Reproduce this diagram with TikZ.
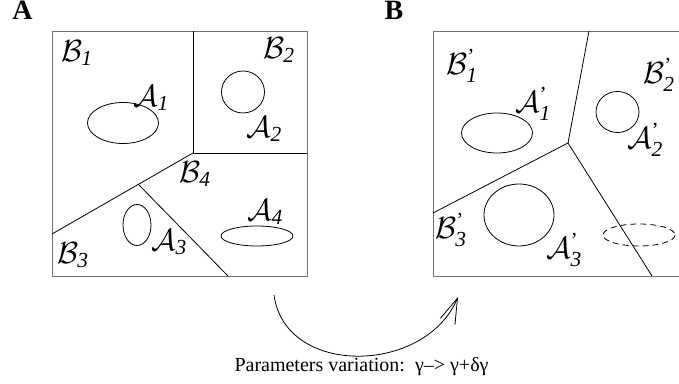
\RequirePackage{fix-cm}
\documentclass[tikz,border=0pt]{standalone}
\usepackage{amsmath}
\usepackage{fontspec}
\setmainfont{Liberation Serif}
\usetikzlibrary{arrows.meta}

\begin{document}
\begin{tikzpicture}[x=0.75pt,y=-0.75pt,line width=0.6pt,
    frame/.style={draw=black!55},
    lbl/.style={inner sep=0pt,font=\fontsize{23}{27}\selectfont},
    panel/.style={inner sep=0pt,anchor=base,font=\fontsize{21}{24}\selectfont\bfseries}]
    \useasboundingbox (0,0) rectangle (679,384);
    % This draws the two frames, the right one runs off the page.
        \draw[frame] (52,31) rectangle (307,276);
        \draw[frame] (682,31) -- (433,31) -- (433,276) -- (682,276);
    % Borders of the regions in A.
        \draw (193,31) -- (193,153) -- (307,153);
        \draw (193,153) -- (52,234);
        \draw (138,184) -- (228,276);
    % Borders of the regions in B.
        \draw (589,31) -- (568,143) -- (433,213);
        \draw (568,143) -- (652,276);
    % The sets inside the regions.
        \draw (123,123) ellipse [x radius=35.5, y radius=20.5];
        \draw (243,92) ellipse [x radius=21.5, y radius=21];
        \draw (137,225) ellipse [x radius=14, y radius=20.5];
        \draw (257,236) ellipse [x radius=36, y radius=10];
        \draw (497,133) ellipse [x radius=35.5, y radius=20];
        \draw (617.5,112) ellipse [x radius=21.5, y radius=20.5];
        \draw (519,215) ellipse [x radius=35, y radius=31];
        \draw[dash pattern=on 4.5pt off 3pt] (639,235) ellipse [x radius=36, y radius=11];
    % Below nodes are the labels.
        \node[panel] (pa) at (22.5,20) {A};
        \node[panel] (pb) at (394,20) {B};
        \node[lbl] (b1) at (77,53) {$\mathcal{B}_{\mathit{1}}$};
        \node[lbl] (b2) at (279,50) {$\mathcal{B}_{\mathit{2}}$};
        \node[lbl] (a1) at (151,98) {$\mathcal{A}_{\mathit{1}}$};
        \node[lbl] (a2) at (264,129) {$\mathcal{A}_{\mathit{2}}$};
        \node[lbl] (b4) at (195,174) {$\mathcal{B}_{\mathit{4}}$};
        \node[lbl] (a3) at (169,242) {$\mathcal{A}_{\mathit{3}}$};
        \node[lbl] (a4) at (265,212) {$\mathcal{A}_{\mathit{4}}$};
        \node[lbl] (b3) at (73,255) {$\mathcal{B}_{\mathit{3}}$};
        \node[lbl] (b1p) at (462,66) {$\mathcal{B}^{\textrm{'}}_{\mathit{1}}$};
        \node[lbl] (a1p) at (533,104) {$\mathcal{A}^{\textrm{'}}_{\mathit{1}}$};
        \node[lbl] (b2p) at (659,75) {$\mathcal{B}^{\textrm{'}}_{\mathit{2}}$};
        \node[lbl] (a2p) at (645,140) {$\mathcal{A}^{\textrm{'}}_{\mathit{2}}$};
        \node[lbl] (b3p) at (451,230) {$\mathcal{B}^{\textrm{'}}_{\mathit{3}}$};
        \node[lbl] (a3p) at (564,250) {$\mathcal{A}^{\textrm{'}}_{\mathit{3}}$};
    % This draws the arrow from A to B.
        \coordinate (arrowstart) at (274,295);
        \coordinate (arrowend) at (458,297);
        \draw[-{Straight Barb[length=19pt,width=12pt]}] (arrowstart) .. controls (285,377) and (425,375) .. (arrowend);
        \node[inner sep=0pt,anchor=base,font=\fontsize{15}{18}\selectfont] (caption) at (361.5,372) {Parameters variation:\ \ γ–> γ+δγ};
\end{tikzpicture}
\end{document}
